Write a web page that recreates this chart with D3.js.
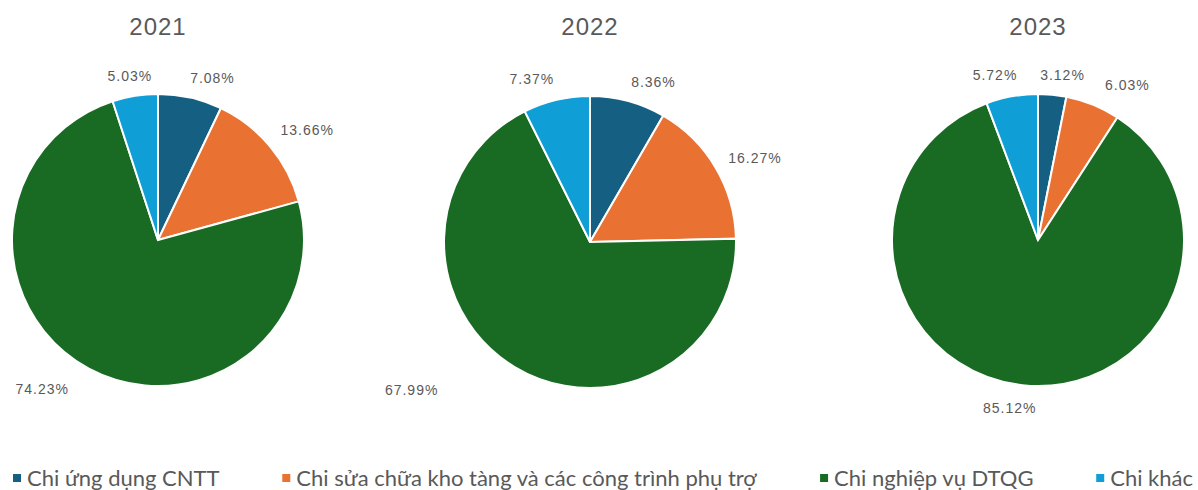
<!DOCTYPE html>
<html>
<head>
<meta charset="utf-8">
<script src="https://cdn.jsdelivr.net/npm/d3@7"></script>
<style>
  body { margin: 0; background: #fff; }
  svg { display: block; }
</style>
</head>
<body>
<script>
// data
var years = ["2021", "2022", "2023"];
var categories = ["Chi ứng dụng CNTT", "Chi sửa chữa kho tàng và các công trình phụ trợ", "Chi nghiệp vụ DTQG", "Chi khác"];
var values2021 = [7.08, 13.66, 74.23, 5.03];
var values2022 = [8.36, 16.27, 67.99, 7.37];
var values2023 = [3.12, 6.03, 85.12, 5.72];

// layout
var w = 1198, h = 490;
var centers = [[158, 240], [590, 242], [1038, 240]];
var radius = 146;
// small hand nudges for the data labels (pixels), per year / per slice
var labelNudge = [
    [[15, -1], [12, -4], [-31, 4], [0, -1]],
    [[17, -1], [11, 0], [-86, 7], [-17, -2]],
    [[7, -1], [22, -2], [-9, 4], [-11, -3]]
];

var color = d3.scaleOrdinal()
              .domain(categories)
              .range(["#156082", "#E97132", "#196B24", "#0F9ED5"]);

var svg = d3.select("body")
            .append("svg")
            .attr("width", w)
            .attr("height", h);

var pie = d3.pie().sort(null).value(function(d) { return d.value; });
var arc = d3.arc().innerRadius(0).outerRadius(radius);

var allValues = [values2021, values2022, values2023];

years.forEach(function(year, i) {
    var rows = categories.map(function(c, j) { return {cat: c, value: allValues[i][j]}; });
    var g = svg.append("g")
               .attr("transform", "translate(" + centers[i][0] + "," + centers[i][1] + ")");

    g.selectAll("path")
     .data(pie(rows))
     .enter()
     .append("path")
     .attr("d", arc)
     .attr("fill", function(d) { return color(d.data.cat); })
     .attr("stroke", "#fff")
     .attr("stroke-width", 2);

    g.selectAll("text.lbl")
     .data(pie(rows))
     .enter()
     .append("text")
     .attr("class", "lbl")
     .attr("x", function(d, j) {
        var a = (d.startAngle + d.endAngle) / 2;
        return (radius + 12) * Math.sin(a) + 21 * Math.sin(a) + labelNudge[i][j][0];
     })
     .attr("y", function(d, j) {
        var a = (d.startAngle + d.endAngle) / 2;
        return -(radius + 12) * Math.cos(a) - 7 * Math.cos(a) + labelNudge[i][j][1];
     })
     .attr("text-anchor", "middle")
     .attr("dominant-baseline", "central")
     .style("font-family", "'Liberation Sans', Arial, sans-serif")
     .style("font-size", "14px")
     .style("letter-spacing", "1px")
     .style("fill", "#595959")
     .text(function(d) { return d.data.value.toFixed(2) + "%"; });

    svg.append("text")
       .attr("x", centers[i][0])
       .attr("y", 35)
       .attr("text-anchor", "middle")
       .style("font-family", "'Liberation Sans', Arial, sans-serif")
       .style("font-size", "24px")
       .style("letter-spacing", "1px")
       .style("fill", "#595959")
       .text(year);
});

// legend: measure items then spread them over the row
var legend = svg.append("g");
var items = legend.selectAll("g")
                  .data(categories)
                  .enter()
                  .append("g");

items.append("rect")
     .attr("x", 0)
     .attr("y", 474)
     .attr("width", 8)
     .attr("height", 8)
     .attr("fill", function(d) { return color(d); });

items.append("text")
     .attr("x", 14)
     .attr("y", 486)
     .style("font-family", "Lato, 'Noto Sans', sans-serif")
     .style("font-size", "22px")
     .style("fill", "#595959")
     .text(function(d) { return d; });

var widths = [];
items.each(function() { widths.push(this.getBBox().width); });
var startX = 13, endX = 1193;
var gap = (endX - startX - d3.sum(widths)) / (categories.length - 1);
var x = startX;
items.attr("transform", function(d, k) {
    var t = "translate(" + x + ",0)";
    x += widths[k] + gap;
    return t;
});
</script>
</body>
</html>
